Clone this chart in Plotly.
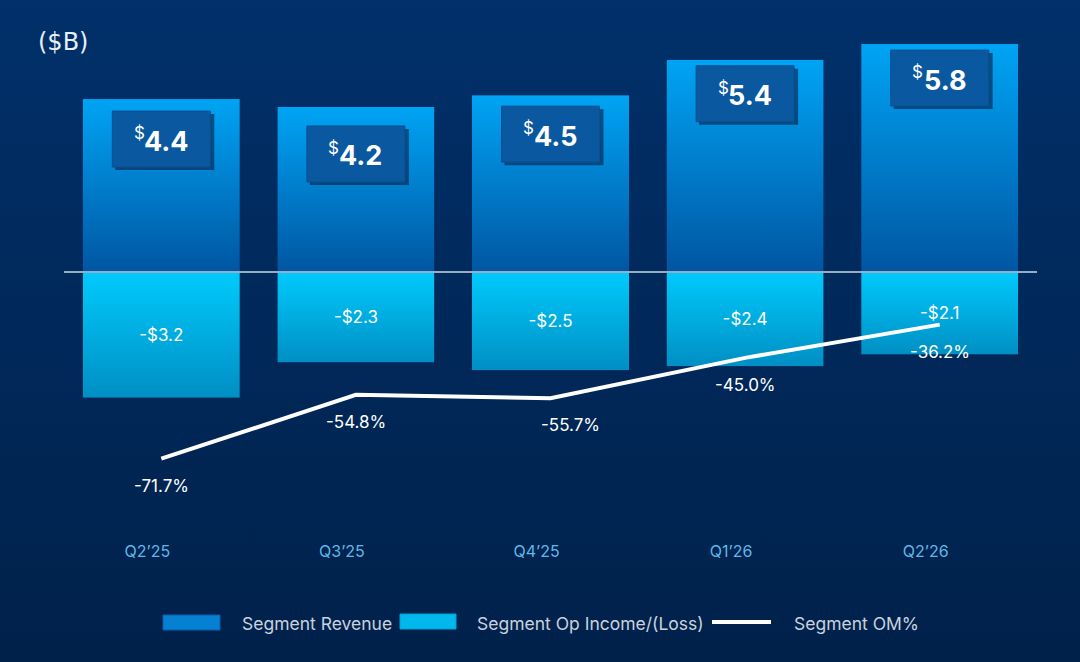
import base64
import plotly.graph_objects as go

# ---- data ----
quarters = ["Q2\u201925", "Q3\u201925", "Q4\u201925", "Q1\u201926", "Q2\u201926"]
revenue = [4.4, 4.2, 4.5, 5.4, 5.8]
op_income = [-3.2, -2.3, -2.5, -2.4, -2.1]
om_pct = [-71.7, -54.8, -55.7, -45.0, -36.2]

# ---- style ----
FONT = "Inter"
BG_TOP, BG_BOTTOM = "#01306a", "#00214a"
REV_TOP, REV_BOTTOM = "#00a4f4", "#0056a2"
OPI_TOP, OPI_BOTTOM = "#00cafc", "#008fc4"
REV_COLOR = "#0680d2"
OPI_COLOR = "#00b8ec"
BOX_COLOR = "#0a589f"
BAR_W = 0.807
box_yshift = [-40, -47, -39, -34, -34]
pct_xshift = [0, 0, 20, 0, 0]

# plot geometry (pixels)
W, H = 1080, 662
L, R, T, B = 64, 43, 40, 132
plot_w = W - L - R
plot_h = H - T - B


def grad(top, bottom):
    svg = (
        '<svg xmlns="http://www.w3.org/2000/svg" width="100" height="100" '
        'viewBox="0 0 100 100" preserveAspectRatio="none">'
        '<defs><linearGradient id="g" x1="0" y1="0" x2="0" y2="1">'
        f'<stop offset="0" stop-color="{top}"/>'
        f'<stop offset="1" stop-color="{bottom}"/>'
        '</linearGradient></defs>'
        '<rect width="100" height="100" fill="url(#g)"/></svg>'
    )
    return "data:image/svg+xml;base64," + base64.b64encode(svg.encode()).decode()


xs = list(range(len(quarters)))

fig = go.Figure()

# bars (fill drawn with gradient images placed from the same data, below traces)
fig.add_trace(go.Bar(
    x=xs, y=revenue, name="Segment Revenue",
    marker=dict(color="rgba(6,128,210,0)", line=dict(width=0)),
    width=BAR_W, showlegend=False, hoverinfo="skip",
))
fig.add_trace(go.Bar(
    x=xs, y=op_income, name="Segment Op Income/(Loss)",
    marker=dict(color="rgba(0,184,236,0)", line=dict(width=0)),
    width=BAR_W, showlegend=False,
    text=[f"-${abs(v):.1f}" for v in op_income],
    textposition="inside", insidetextanchor="middle",
    textfont=dict(family=FONT, size=17, color="white"),
    constraintext="none",
))
fig.add_trace(go.Scatter(
    x=xs, y=om_pct, name="Segment OM%", yaxis="y2",
    mode="lines", line=dict(color="white", width=4),
    showlegend=False,
))

images = [dict(
    source=grad(BG_TOP, BG_BOTTOM), xref="paper", yref="paper",
    x=-L / plot_w, y=1 + T / plot_h, sizex=W / plot_w, sizey=H / plot_h,
    xanchor="left", yanchor="top", sizing="stretch", layer="below",
)]
rev_src = grad(REV_TOP, REV_BOTTOM)
opi_src = grad(OPI_TOP, OPI_BOTTOM)
for i, (rv, oi) in enumerate(zip(revenue, op_income)):
    images.append(dict(source=rev_src, xref="x", yref="y", x=i, y=rv,
                       sizex=BAR_W, sizey=rv, xanchor="center", yanchor="top",
                       sizing="stretch", layer="below"))
    images.append(dict(source=opi_src, xref="x", yref="y", x=i, y=0,
                       sizex=BAR_W, sizey=abs(oi), xanchor="center", yanchor="top",
                       sizing="stretch", layer="below"))

annotations = []
shapes = []
# revenue value boxes: shadow + box shapes (pixel sized, anchored on data), then text
for i, (v, ys) in enumerate(zip(revenue, box_yshift)):
    shapes.append(dict(
        type="rect", xref="x", yref="y", xsizemode="pixel", ysizemode="pixel",
        xanchor=i, yanchor=v, x0=-46, x1=53, y0=ys - 31, y1=ys + 25,
        fillcolor="rgba(2,28,66,0.6)", line=dict(width=0), layer="above",
    ))
    shapes.append(dict(
        type="rect", xref="x", yref="y", xsizemode="pixel", ysizemode="pixel",
        xanchor=i, yanchor=v, x0=-49, x1=49, y0=ys - 28, y1=ys + 28,
        fillcolor=BOX_COLOR, line=dict(color="#0b4f90", width=1), layer="above",
    ))
    annotations.append(dict(
        x=i, y=v, xref="x", yref="y", text=f"<b>{v:.1f}</b>", showarrow=False,
        yanchor="middle", yshift=ys - 2, xshift=5,
        font=dict(family=FONT, size=27, color="white"),
    ))
    annotations.append(dict(
        x=i, y=v, xref="x", yref="y", text="$", showarrow=False,
        yanchor="middle", yshift=ys + 6, xshift=-22,
        font=dict(family=FONT, size=17, color="white"),
    ))
# OM% labels
for i, (p, xsft) in enumerate(zip(om_pct, pct_xshift)):
    annotations.append(dict(
        x=i, y=p, xref="x", yref="y2", text=f"{p:.1f}%", showarrow=False,
        yanchor="top", yshift=-15, xshift=xsft,
        font=dict(family=FONT, size=17, color="white"),
    ))
# unit label
annotations.append(dict(
    x=(36 - L) / plot_w, y=(H - B - 42) / plot_h, xref="paper", yref="paper",
    text="($B)", showarrow=False, xanchor="left", yanchor="middle",
    font=dict(family="DejaVu Sans", size=24, color="#e8eef6"),
))


# ---- manual legend ----
def px_x(px):
    return (px - L) / plot_w


def px_y(py):
    return (H - B - py) / plot_h


shapes += [
    dict(type="rect", xref="paper", yref="paper",
         x0=px_x(163), x1=px_x(220), y0=px_y(630), y1=px_y(615),
         fillcolor=REV_COLOR, line=dict(color="#0a5fae", width=1)),
    dict(type="rect", xref="paper", yref="paper",
         x0=px_x(400), x1=px_x(456), y0=px_y(629), y1=px_y(614),
         fillcolor=OPI_COLOR, line=dict(color="#00a2da", width=1)),
    dict(type="line", xref="paper", yref="paper",
         x0=px_x(712), x1=px_x(771), y0=px_y(622), y1=px_y(622),
         line=dict(color="white", width=4)),
]
legend_items = [(240, "Segment Revenue"), (475, "Segment Op Income/(Loss)"), (792, "Segment OM%")]
for x0, txt in legend_items:
    annotations.append(dict(
        x=px_x(x0), y=px_y(623), xref="paper", yref="paper", text=txt,
        showarrow=False, xanchor="left", yanchor="middle",
        font=dict(family=FONT, size=17.5, color="#c9d2de"),
    ))

# axis ranges matching pixel scales
y_scale = 39.3    # px per $B
y_zero = 272
y2_scale = 3.775  # px per pct point
y2_zero = 188

y_range = [-(H - B - y_zero) / y_scale, (y_zero - T) / y_scale]
y2_range = [-(H - B - y2_zero) / y2_scale, (y2_zero - T) / y2_scale]

fig.update_layout(
    width=W, height=H,
    margin=dict(l=L, r=R, t=T, b=B),
    paper_bgcolor=BG_BOTTOM, plot_bgcolor="rgba(0,0,0,0)",
    barmode="relative",
    showlegend=False,
    font=dict(family=FONT, color="white"),
    xaxis=dict(
        range=[-0.5, len(quarters) - 0.5], tickvals=xs, ticktext=quarters,
        showgrid=False, zeroline=False, showline=False,
        ticks="", tickfont=dict(family=FONT, size=16, color="#5fb8ea"),
        ticklabelshift=-14, ticklabelstandoff=10,
    ),
    yaxis=dict(
        range=y_range, showgrid=False, showticklabels=False,
        zeroline=True, zerolinecolor="#9aabc2", zerolinewidth=1.5,
    ),
    yaxis2=dict(
        range=y2_range, overlaying="y", side="right",
        showgrid=False, showticklabels=False, zeroline=False,
    ),
    annotations=annotations,
    shapes=shapes,
    images=images,
)

fig.write_html("out.html", config={"displayModeBar": False},
               post_script="document.body.style.margin='0';")
